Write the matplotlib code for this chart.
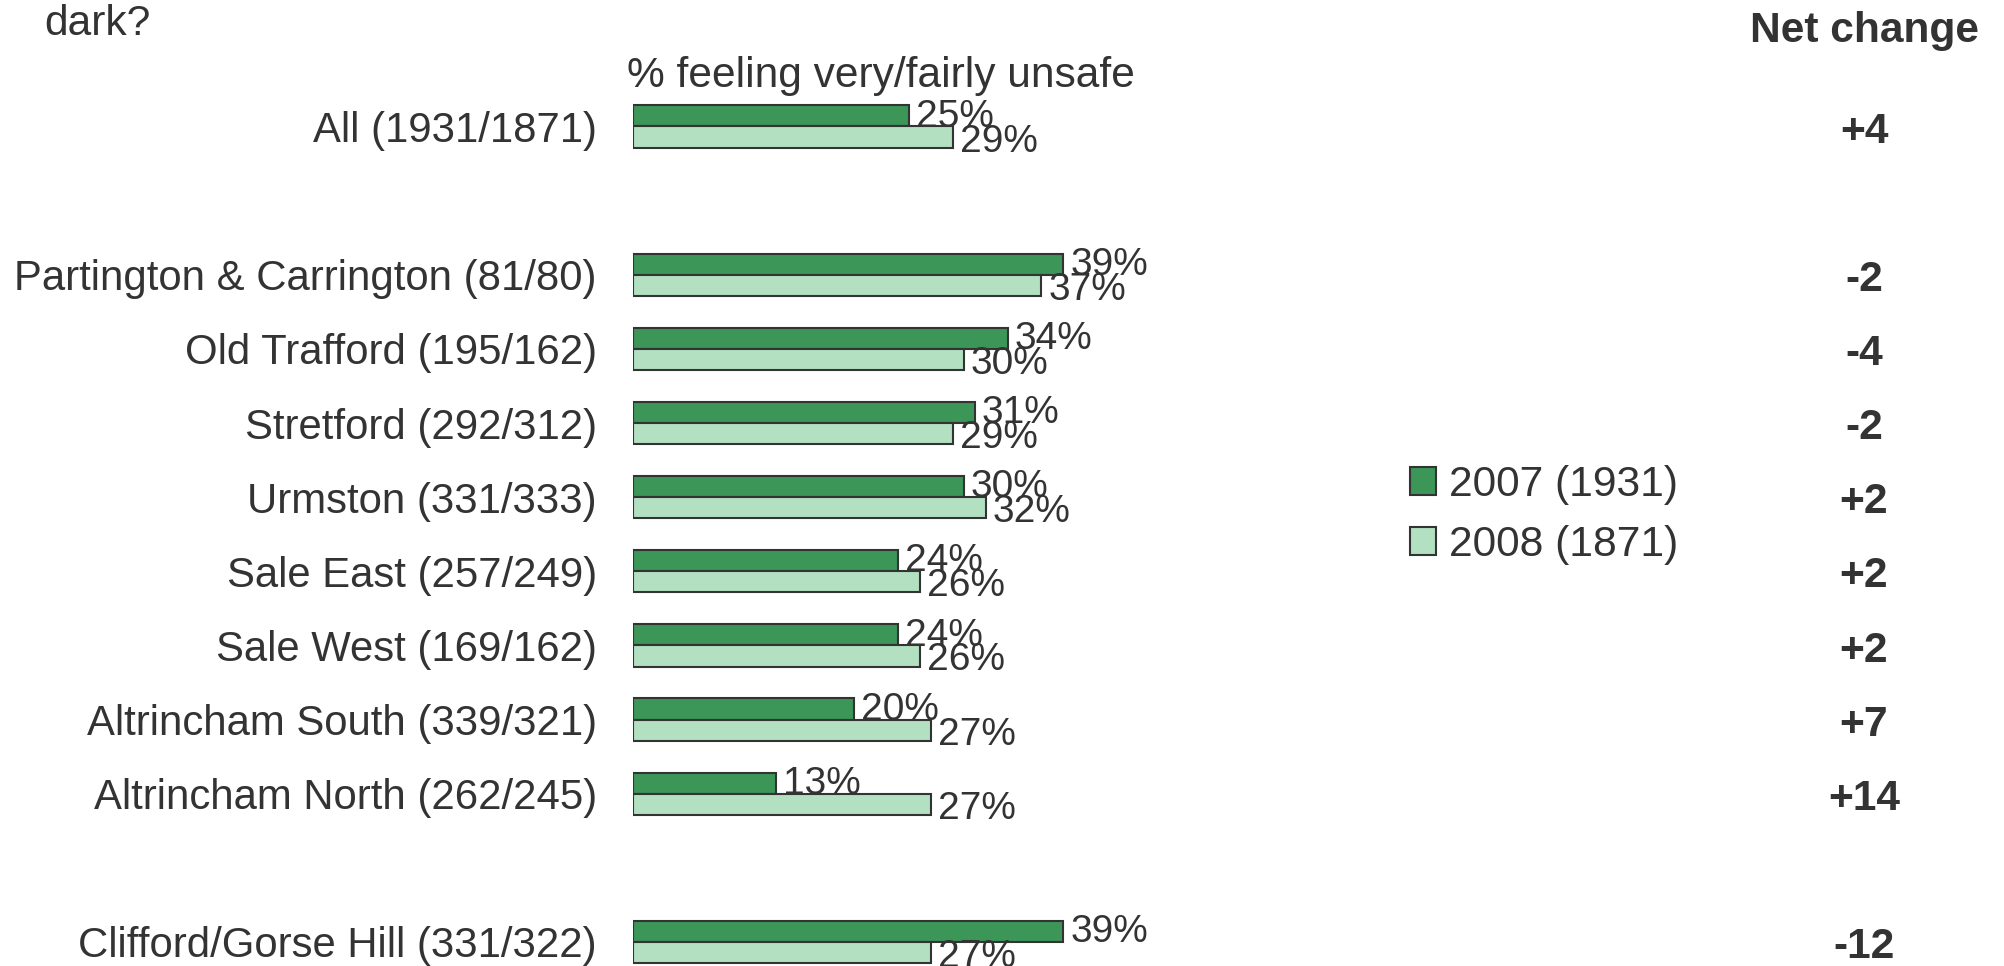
import matplotlib
matplotlib.use("Agg")
import matplotlib.pyplot as plt
import matplotlib.transforms as mtransforms
import numpy as np

plt.rcParams['font.family'] = ['Liberation Sans', 'DejaVu Sans']

# ---------------- data ----------------
categories = ["All (1931/1871)",
              "Partington & Carrington (81/80)",
              "Old Trafford (195/162)",
              "Stretford (292/312)",
              "Urmston (331/333)",
              "Sale East (257/249)",
              "Sale West (169/162)",
              "Altrincham South (339/321)",
              "Altrincham North (262/245)",
              "Clifford/Gorse Hill (331/322)"]
group_sizes = [1, 8, 1]
values_2007 = [25, 39, 34, 31, 30, 24, 24, 20, 13, 39]
values_2008 = [29, 37, 30, 29, 32, 26, 26, 27, 27, 27]
series_labels = ["2007 (1931)", "2008 (1871)"]
axis_title = "% feeling very/fairly unsafe"
top_text = "dark?"
net_title = "Net change"

# ---------------- style ----------------
W, H = 2004, 966
C_DARK = "#3b9657"
C_LIGHT = "#b2e0c1"
C_EDGE = "#333333"
C_TEXT = "#333333"
FS = 30.6
FS_CAT = 30.2

fig = plt.figure(figsize=(W / 100, H / 100), dpi=100)

def fx(px):
    return px / W

def fy(py):
    return 1 - py / H

# row positions with a one-row gap between groups
positions = []
pos = 0
for gi, g in enumerate(group_sizes):
    for _ in range(g):
        positions.append(pos)
        pos += 1
    pos += 1
positions = np.array(positions, dtype=float)

row_px = 74.13
row0_px = 126.5
px_per_pct = 11.03
ax_left = 633
ax_right = 1333
ax = fig.add_axes([fx(ax_left), 0, fx(ax_right - ax_left), 1])
ax.set_xlim(0, (ax_right - ax_left) / px_per_pct)
ax.set_ylim((H - row0_px) / row_px, -row0_px / row_px)

bh = 0.285
b1 = ax.barh(positions - bh / 2, values_2007, height=bh, color=C_DARK,
             edgecolor=C_EDGE, linewidth=1.5, label=series_labels[0])
b2 = ax.barh(positions + bh / 2, values_2008, height=bh, color=C_LIGHT,
             edgecolor=C_EDGE, linewidth=1.5, label=series_labels[1])

for y, v in zip(positions, values_2007):
    ax.annotate(f"{v}%", (v, y - bh / 2 + 0.01), xytext=(5, 0),
                textcoords="offset points", va="center", ha="left",
                fontsize=28, color=C_TEXT)
for y, v in zip(positions, values_2008):
    ax.annotate(f"{v}%", (v, y + bh / 2 + 0.06), xytext=(5, 0),
                textcoords="offset points", va="center", ha="left",
                fontsize=28, color=C_TEXT)

ax.set_yticks(positions)
ax.set_yticklabels(categories, fontsize=FS_CAT, color=C_TEXT)
ax.tick_params(axis="y", length=0, pad=26)
ax.tick_params(axis="x", bottom=False, labelbottom=False)
for s in ax.spines.values():
    s.set_visible(False)

# net change column
trans = mtransforms.blended_transform_factory(fig.transFigure, ax.transData)
for y, a, b in zip(positions, values_2007, values_2008):
    d = b - a
    ax.text(fx(1864), y + 0.07, f"{d:+d}", transform=trans, ha="center",
            va="center", fontsize=FS, fontweight="bold", color=C_TEXT)

fig.text(fx(1864), fy(42), net_title, ha="center", va="baseline",
         fontsize=FS, fontweight="bold", color=C_TEXT)
fig.text(fx(44), fy(35), top_text, ha="left", va="baseline",
         fontsize=FS, color=C_TEXT)
fig.text(fx(627), fy(87), axis_title, ha="left", va="baseline",
         fontsize=FS, color=C_TEXT)

fig.legend(handles=[b1, b2], labels=series_labels, loc="center left",
           bbox_to_anchor=(fx(1410), fy(515)), frameon=False,
           fontsize=FS, handlelength=0.62, handleheight=0.62,
           handletextpad=0.3, labelspacing=0.48, borderpad=0,
           borderaxespad=0, labelcolor=C_TEXT)

fig.savefig("out.png", dpi=100)
